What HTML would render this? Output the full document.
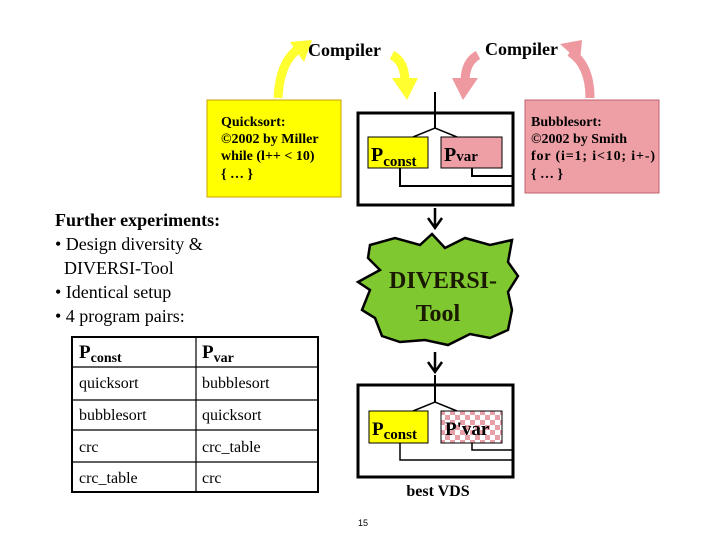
<!DOCTYPE html>
<html><head><style>
body{margin:0;background:#fff;}
svg{display:block}
</style></head><body>
<svg width="720" height="540" xmlns="http://www.w3.org/2000/svg" font-family="Liberation Serif, serif">
<defs>
<pattern id="chk" width="10" height="10" patternUnits="userSpaceOnUse">
<rect width="10" height="10" fill="#fff"/><rect width="5" height="5" fill="#e8a0a8"/><rect x="5" y="5" width="5" height="5" fill="#e8a0a8"/>
</pattern>
</defs>
<path d="M278,98 Q280,60 300,48" stroke="#ffff30" stroke-width="9" fill="none"/>
<polygon points="290,42 312,40 304,62" fill="#ffff30"/>
<path d="M392,55 Q405,62 405,82" stroke="#ffff30" stroke-width="9" fill="none"/>
<polygon points="392,78 418,78 407,100" fill="#ffff30"/>
<path d="M478,55 Q465,62 465,82" stroke="#ee98a0" stroke-width="9" fill="none"/>
<polygon points="452,78 478,78 463,100" fill="#ee98a0"/>
<path d="M590,98 Q590,65 570,52" stroke="#ee98a0" stroke-width="9" fill="none"/>
<polygon points="560,44 582,40 580,62" fill="#ee98a0"/>
<text x="308" y="56" font-size="18" font-weight="bold">Compiler</text>
<text x="485" y="55" font-size="18" font-weight="bold">Compiler</text>
<rect x="207" y="100" width="134" height="97" fill="#ffff00" stroke="#c8a000" stroke-width="1"/>
<g font-size="14" font-weight="bold">
<text x="221" y="126">Quicksort:</text>
<text x="221" y="143">©2002  by Miller</text>
<text x="221" y="160">while (l++ &lt; 10)</text>
<text x="221" y="178">{ … }</text>
</g>
<rect x="525" y="100" width="134" height="93" fill="#ee9fa5" stroke="#c06070" stroke-width="1"/>
<g font-size="14" font-weight="bold">
<text x="531" y="126">Bubblesort:</text>
<text x="531" y="143">©2002  by Smith</text>
<text x="531" y="160" textLength="124">for (i=1; i&lt;10; i+-)</text>
<text x="531" y="178">{ … }</text>
</g>
<rect x="358" y="113" width="155" height="92" fill="none" stroke="#000" stroke-width="3"/>
<line x1="435" y1="92" x2="435" y2="128" stroke="#000" stroke-width="2"/>
<path d="M413,137 L435,128 L457,137" stroke="#000" stroke-width="1.5" fill="none"/>
<rect x="368" y="137" width="60" height="31" fill="#ffff00" stroke="#000" stroke-width="1"/>
<rect x="441" y="137" width="61" height="31" fill="#ee9fa5" stroke="#000" stroke-width="1"/>
<text x="371" y="161" font-size="20" font-weight="bold">P<tspan font-size="15" dy="5">const</tspan></text>
<text x="444" y="161" font-size="20" font-weight="bold">P<tspan font-size="15" dy="0">var</tspan></text>
<path d="M400,168 V186 H513 M472,168 V176 H513" stroke="#000" stroke-width="2" fill="none"/>
<path d="M435,208 V226 M428,218 L435,228 L442,218" stroke="#000" stroke-width="2.5" fill="none"/>
<path d="M435,352 V370 M428,362 L435,372 L442,362" stroke="#000" stroke-width="2.5" fill="none"/>
<path d="M370,245 L395,238 L420,245 L432,234 L445,248 L465,238 L490,245 L512,240 L508,262 L518,276 L508,292 L512,310 L508,330 L490,338 L470,334 L448,345 L425,340 L400,342 L382,336 L375,318 L362,310 L370,290 L358,282 L380,270 L368,258 Z" fill="#80c830" stroke="#000" stroke-width="2.5"/>
<text x="443" y="288" font-size="24" font-weight="bold" fill="#1a1a00" text-anchor="middle">DIVERSI-</text>
<text x="438" y="321" font-size="24" font-weight="bold" fill="#1a1a00" text-anchor="middle">Tool</text>
<rect x="358" y="385" width="155" height="92" fill="none" stroke="#000" stroke-width="3"/>
<line x1="435" y1="375" x2="435" y2="402" stroke="#000" stroke-width="2"/>
<path d="M413,411 L435,402 L457,411" stroke="#000" stroke-width="1.5" fill="none"/>
<rect x="369" y="411" width="59" height="32" fill="#ffff00" stroke="#000" stroke-width="1"/>
<rect x="441" y="411" width="61" height="32" fill="url(#chk)" stroke="#000" stroke-width="1"/>
<text x="372" y="435" font-size="19" font-weight="bold">P<tspan font-size="15" dy="4">const</tspan></text>
<text x="445" y="435" font-size="19" font-weight="bold">P'var</text>
<path d="M400,443 V460 H513 M472,443 V450 H513" stroke="#000" stroke-width="1.5" fill="none"/>
<text x="438" y="496" font-size="16" font-weight="bold" text-anchor="middle">best VDS</text>
<text x="363" y="526" font-size="9" font-family="Liberation Sans, sans-serif" text-anchor="middle">15</text>
<g font-size="18">
<text x="55" y="226" font-weight="bold">Further experiments:</text>
<text x="55" y="250">• Design diversity &amp;</text>
<text x="64" y="274">DIVERSI-Tool</text>
<text x="55" y="298">• Identical setup</text>
<text x="55" y="322">• 4 program pairs:</text>
</g>
<rect x="72" y="337" width="246" height="155" fill="#fff" stroke="#000" stroke-width="2"/>
<g stroke="#000" stroke-width="1.2">
<line x1="196" y1="337" x2="196" y2="492"/>
<line x1="72" y1="367" x2="318" y2="367"/>
<line x1="72" y1="400" x2="318" y2="400"/>
<line x1="72" y1="430" x2="318" y2="430"/>
<line x1="72" y1="462" x2="318" y2="462"/>
</g>
<text x="79" y="358" font-size="19" font-weight="bold">P<tspan font-size="14" dy="4">const</tspan></text>
<text x="202" y="358" font-size="19" font-weight="bold">P<tspan font-size="14" dy="4">var</tspan></text>
<g font-size="16">
<text x="79" y="388">quicksort</text><text x="202" y="388">bubblesort</text>
<text x="79" y="420">bubblesort</text><text x="202" y="420">quicksort</text>
<text x="79" y="452">crc</text><text x="202" y="452">crc_table</text>
<text x="79" y="483">crc_table</text><text x="202" y="483">crc</text>
</g>
</svg>
</body></html>
